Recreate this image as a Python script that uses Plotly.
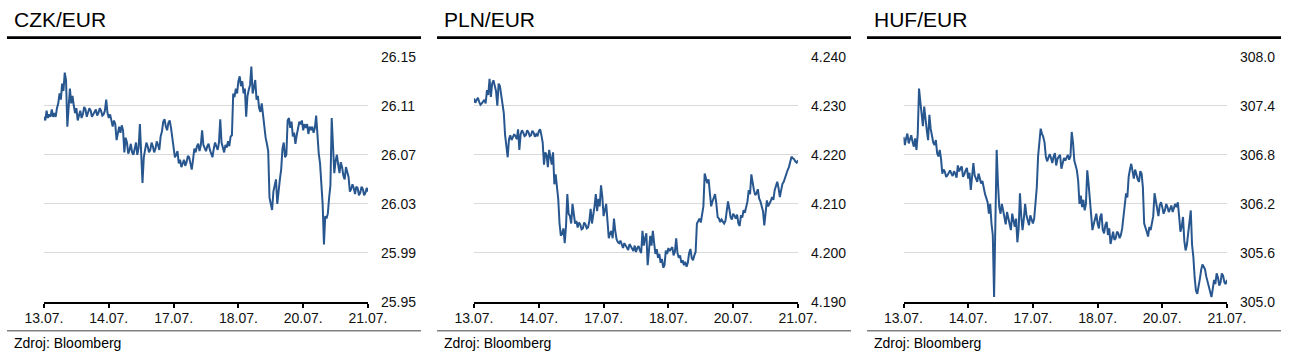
import plotly.graph_objects as go

# ---------------- data ----------------
x_tick_labels = ["13.07.", "14.07.", "17.07.", "18.07.", "20.07.", "21.07."]
x_tick_pos = [0, 1, 2, 3, 4, 5]
# sampling grid: trading-day axis, 0.02 day steps
times = [round(i * 0.02, 2) for i in range(251)]

# readings at every 0.04 day
czk_values = [
    26.101, 26.106, 26.103, 26.107, 26.104, 26.108, 26.120, 26.128, 26.137, 26.093,
    26.124, 26.118, 26.104, 26.098, 26.106, 26.103, 26.107, 26.104, 26.106, 26.103,
    26.107, 26.104, 26.106, 26.103, 26.115, 26.100, 26.097, 26.098, 26.082, 26.093,
    26.094, 26.072, 26.080, 26.074, 26.072, 26.077, 26.070, 26.095, 26.047, 26.074,
    26.077, 26.074, 26.077, 26.075, 26.078, 26.085, 26.097, 26.093, 26.096, 26.092,
    26.074, 26.070, 26.063, 26.060, 26.066, 26.064, 26.068, 26.058, 26.075, 26.077,
    26.073, 26.090, 26.075, 26.077, 26.074, 26.068, 26.080, 26.074, 26.099, 26.075,
    26.078, 26.081, 26.085, 26.120, 26.124, 26.130, 26.126, 26.120, 26.101, 26.123,
    26.142, 26.125, 26.115, 26.108, 26.112, 26.091, 26.079, 26.035, 26.025, 26.045,
    26.030, 26.050, 26.075, 26.068, 26.098, 26.092, 26.085, 26.079, 26.092, 26.095,
    26.090, 26.092, 26.087, 26.090, 26.088, 26.102, 26.071, 26.045, 25.997, 26.018,
    26.035, 26.100, 26.055, 26.070, 26.055, 26.060, 26.050, 26.056, 26.040, 26.046,
    26.038, 26.043, 26.039, 26.042, 26.039, 26.040,
]
# readings half-way between them (intraday swings)
czk_mid = [
    26.098, 26.100, 26.101, 26.101, 26.101, 26.112, 26.115, 26.122, 26.131, 26.108,
    26.112, 26.110, 26.108, 26.102, 26.100, 26.109, 26.101, 26.108, 26.101, 26.105,
    26.102, 26.108, 26.102, 26.106, 26.104, 26.103, 26.093, 26.095, 26.089, 26.088,
    26.090, 26.084, 26.071, 26.079, 26.070, 26.080, 26.076, 26.073, 26.068, 26.080,
    26.072, 26.080, 26.072, 26.081, 26.074, 26.089, 26.099, 26.090, 26.098, 26.085,
    26.068, 26.073, 26.066, 26.063, 26.061, 26.069, 26.063, 26.066, 26.072, 26.079,
    26.078, 26.078, 26.073, 26.079, 26.070, 26.075, 26.077, 26.080, 26.080, 26.072,
    26.076, 26.077, 26.086, 26.117, 26.120, 26.134, 26.130, 26.124, 26.118, 26.127,
    26.120, 26.131, 26.118, 26.105, 26.103, 26.084, 26.073, 26.030, 26.040, 26.050,
    26.042, 26.058, 26.080, 26.070, 26.100, 26.097, 26.088, 26.086, 26.097, 26.098,
    26.095, 26.095, 26.093, 26.093, 26.092, 26.085, 26.063, 26.030, 26.020, 26.022,
    26.045, 26.080, 26.065, 26.062, 26.064, 26.053, 26.060, 26.052, 26.042, 26.043,
    26.044, 26.037, 26.044, 26.037, 26.043,
]

pln_values = [
    4.2315, 4.2312, 4.2308, 4.2305, 4.2312, 4.2332, 4.2355, 4.2345, 4.2340, 4.2300,
    4.2340, 4.2295, 4.2240, 4.2195, 4.2240, 4.2235, 4.2238, 4.2252, 4.2242, 4.2245,
    4.2240, 4.2246, 4.2240, 4.2245, 4.2242, 4.2248, 4.2240, 4.2180, 4.2200, 4.2210,
    4.2180, 4.2140, 4.2130, 4.2060, 4.2040, 4.2020, 4.2120, 4.2075, 4.2100, 4.2060,
    4.2052, 4.2058, 4.2050, 4.2058, 4.2052, 4.2090, 4.2075, 4.2120, 4.2110, 4.2138,
    4.2075, 4.2100, 4.2030, 4.2045, 4.2070, 4.2028, 4.2020, 4.2015, 4.2020, 4.2012,
    4.2018, 4.2008, 4.2015, 4.2010, 4.2005, 4.2045, 4.2030, 4.1975, 4.2035, 4.2045,
    4.1998, 4.1990, 4.1980, 4.1970, 4.2005, 4.2010, 4.2008, 4.1995, 4.2030, 4.1990,
    4.1980, 4.1975, 4.1972, 4.2000, 4.1990, 4.1995, 4.2060, 4.2070, 4.2080, 4.2162,
    4.2142, 4.2120, 4.2105, 4.2120, 4.2073, 4.2063, 4.2063, 4.2065, 4.2105, 4.2073,
    4.2080, 4.2070, 4.2060, 4.2077, 4.2087, 4.2094, 4.2128, 4.2160, 4.2128, 4.2121,
    4.2111, 4.2094, 4.2056, 4.2107, 4.2100, 4.2114, 4.2128, 4.2145, 4.2114, 4.2141,
    4.2155, 4.2169, 4.2189, 4.2193, 4.2186, 4.2189,
]
pln_mid = [
    4.2306, 4.2316, 4.2302, 4.2308, 4.2305, 4.2322, 4.2318, 4.2352, 4.2330, 4.2345,
    4.2322, 4.2285, 4.2215, 4.2232, 4.2230, 4.2242, 4.2232, 4.2210, 4.2250, 4.2238,
    4.2250, 4.2238, 4.2249, 4.2237, 4.2238, 4.2252, 4.2225, 4.2205, 4.2175, 4.2195,
    4.2205, 4.2160, 4.2110, 4.2035, 4.2050, 4.2055, 4.2080, 4.2060, 4.2072, 4.2065,
    4.2062, 4.2048, 4.2062, 4.2050, 4.2065, 4.2060, 4.2095, 4.2085, 4.2095, 4.2115,
    4.2090, 4.2065, 4.2040, 4.2030, 4.2045, 4.2022, 4.2025, 4.2010, 4.2016, 4.2006,
    4.2014, 4.2004, 4.2002, 4.2014, 4.2000, 4.2015, 4.2040, 4.2010, 4.2015, 4.2020,
    4.2008, 4.1998, 4.1988, 4.1975, 4.1998, 4.2004, 4.2012, 4.2002, 4.2000, 4.1995,
    4.1985, 4.1982, 4.1980, 4.2008, 4.1985, 4.2002, 4.2065, 4.2062, 4.2095, 4.2150,
    4.2150, 4.2095, 4.2115, 4.2100, 4.2070, 4.2068, 4.2060, 4.2085, 4.2090, 4.2068,
    4.2076, 4.2078, 4.2055, 4.2072, 4.2082, 4.2105, 4.2120, 4.2140, 4.2118, 4.2130,
    4.2105, 4.2085, 4.2080, 4.2095, 4.2106, 4.2108, 4.2140, 4.2132, 4.2128, 4.2145,
    4.2160, 4.2175, 4.2196, 4.2191, 4.2184,
]

huf_values = [
    307.02, 307.00, 306.94, 307.04, 306.90, 306.86, 307.61, 307.27, 307.39, 307.10,
    307.29, 307.02, 306.92, 306.82, 306.86, 306.57, 306.59, 306.55, 306.61, 306.54,
    306.57, 306.67, 306.63, 306.53, 306.61, 306.51, 306.37, 306.70, 306.51, 306.57,
    306.45, 306.39, 306.27, 306.08, 305.96, 305.06, 306.86, 306.16, 306.20, 306.04,
    306.10, 305.96, 306.08, 305.92, 305.73, 306.33, 305.88, 306.20, 305.98, 306.06,
    305.96, 306.18, 306.78, 307.12, 307.02, 306.78, 306.78, 306.76, 306.78, 306.67,
    306.78, 306.63, 306.76, 306.78, 306.74, 307.08, 306.73, 306.61, 306.20, 306.16,
    306.12, 306.61, 306.29, 305.88, 306.02, 305.96, 306.04, 305.88, 305.94, 305.82,
    305.71, 305.86, 305.78, 305.84, 305.82, 306.04, 306.33, 306.53, 306.69, 306.51,
    306.55, 306.47, 306.57, 305.96, 305.86, 305.92, 306.00, 306.33, 306.12, 306.18,
    306.16, 306.12, 306.16, 306.14, 306.10, 306.20, 306.22, 305.86, 306.04, 305.63,
    305.84, 306.12, 305.55, 305.14, 305.22, 305.39, 305.43, 305.31, 305.18, 305.06,
    305.27, 305.35, 305.20, 305.35, 305.24, 305.27,
]
huf_mid = [
    306.92, 307.06, 306.98, 306.96, 307.00, 307.05, 307.45, 307.15, 307.22, 306.98,
    307.12, 306.95, 306.98, 306.78, 306.75, 306.62, 306.53, 306.58, 306.57, 306.60,
    306.52, 306.60, 306.66, 306.56, 306.64, 306.58, 306.50, 306.55, 306.47, 306.52,
    306.48, 306.32, 306.22, 306.20, 305.82, 305.85, 306.45, 306.08, 306.12, 305.95,
    306.02, 305.88, 306.00, 306.02, 305.90, 306.05, 306.02, 306.06, 305.94, 306.02,
    306.02, 306.40, 306.95, 307.06, 306.95, 306.72, 306.81, 306.70, 306.82, 306.75,
    306.80, 306.72, 306.73, 306.80, 306.78, 306.95, 306.68, 306.48, 306.30, 306.25,
    306.20, 306.45, 306.10, 305.95, 306.08, 305.90, 306.08, 305.84, 305.98, 305.90,
    305.80, 305.76, 305.86, 305.78, 305.90, 306.14, 306.28, 306.62, 306.60, 306.62,
    306.50, 306.60, 306.40, 305.92, 305.80, 305.88, 306.05, 306.24, 306.05, 306.22,
    306.08, 306.20, 306.10, 306.18, 306.14, 306.16, 306.05, 305.92, 305.75, 305.70,
    305.95, 305.70, 305.30, 305.10, 305.28, 305.46, 305.40, 305.25, 305.12, 305.16,
    305.22, 305.30, 305.24, 305.32, 305.22,
]

titles = ["CZK/EUR", "PLN/EUR", "HUF/EUR"]
source_text = "Zdroj: Bloomberg"

czk_ticks = [25.95, 25.99, 26.03, 26.07, 26.11, 26.15]
pln_ticks = [4.190, 4.200, 4.210, 4.220, 4.230, 4.240]
huf_ticks = [305.0, 305.6, 306.2, 306.8, 307.4, 308.0]


def interleave(main, mid):
    out = []
    for k, v in enumerate(main):
        out.append(v)
        if k < len(mid):
            out.append(mid[k])
    return out


series = [interleave(czk_values, czk_mid),
          interleave(pln_values, pln_mid),
          interleave(huf_values, huf_mid)]
ytick_sets = [czk_ticks, pln_ticks, huf_ticks]
ytick_formats = [".2f", ".3f", ".1f"]

# ---------------- layout geometry (pixels) ----------------
W, H = 1290, 362
FONT = "Liberation Sans, Arial, sans-serif"
LINE_COLOR = "#28578f"

plot_left = [44, 474, 903.5]
plot_right = [368, 798, 1227]
plot_top, plot_bottom = 56.7, 302
title_x = [12, 442, 872]
rule_x = [(7, 421), (437, 851), (867, 1281)]


def px(x):
    return x / W


def py(y):
    return 1 - y / H


fig = go.Figure()
layout = dict(
    width=W, height=H,
    margin=dict(l=0, r=0, t=0, b=0, autoexpand=False),
    paper_bgcolor="white", plot_bgcolor="white",
    showlegend=False,
    font=dict(family=FONT, color="#111111"),
    shapes=[], annotations=[],
)

for i in range(3):
    sfx = "" if i == 0 else str(i + 1)
    fig.add_trace(go.Scatter(
        x=times, y=series[i], mode="lines",
        line=dict(color=LINE_COLOR, width=2.0),
        xaxis="x" + sfx, yaxis="y" + sfx, hoverinfo="skip",
    ))
    yt = ytick_sets[i]
    layout["xaxis" + sfx] = dict(
        domain=[px(plot_left[i]), px(plot_right[i])],
        anchor="y" + sfx,
        range=[0, 5],
        automargin=False,
        tickvals=x_tick_pos, ticktext=x_tick_labels,
        showgrid=False, zeroline=False,
        showline=True, linecolor="black", linewidth=2,
        ticks="outside", ticklen=4, tickwidth=1.6, tickcolor="black",
        ticklabelstandoff=-2,
        tickfont=dict(family=FONT, size=14, color="#111111"),
    )
    layout["yaxis" + sfx] = dict(
        domain=[py(plot_bottom), py(plot_top)],
        anchor="x" + sfx,
        side="right",
        range=[yt[0], yt[-1]],
        automargin=False,
        tickvals=yt,
        tickformat=ytick_formats[i],
        showgrid=True, gridcolor="#d9d9d9", gridwidth=1.3,
        zeroline=False, showline=False, ticks="",
        ticklabelstandoff=12,
        tickfont=dict(family=FONT, size=14, color="#111111"),
    )
    layout["annotations"].append(dict(
        text=titles[i], xref="paper", yref="paper",
        x=px(title_x[i]), y=py(19), xanchor="left", yanchor="middle",
        showarrow=False, font=dict(family=FONT, size=21, color="black"),
    ))
    layout["annotations"].append(dict(
        text=source_text, xref="paper", yref="paper",
        x=px(title_x[i]), y=py(343), xanchor="left", yanchor="middle",
        showarrow=False, font=dict(family=FONT, size=14, color="black"),
    ))
    layout["shapes"].append(dict(
        type="line", xref="paper", yref="paper",
        x0=px(rule_x[i][0]), x1=px(rule_x[i][1]), y0=py(37.7), y1=py(37.7),
        line=dict(color="black", width=2.7),
    ))
    layout["shapes"].append(dict(
        type="line", xref="paper", yref="paper",
        x0=px(rule_x[i][0]), x1=px(rule_x[i][1]), y0=py(330.7), y1=py(330.7),
        line=dict(color="#808080", width=1.6),
    ))

fig.update_layout(**layout)
fig.write_html(
    "out.html",
    config={"displayModeBar": False},
    post_script="document.body.style.margin='0px';document.body.style.overflow='hidden';",
)
